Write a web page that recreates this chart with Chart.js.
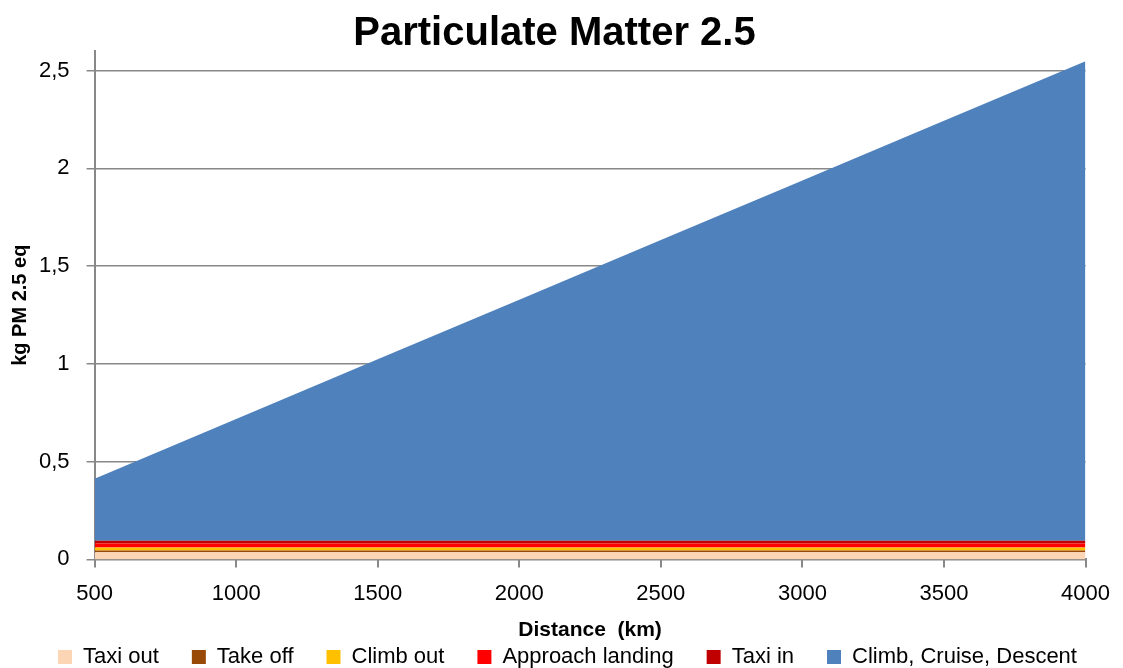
<!DOCTYPE html>
<html>
<head>
<meta charset="utf-8">
<script src="https://cdn.jsdelivr.net/npm/chart.js@4/dist/chart.umd.min.js"></script>
<style>
  html, body { margin: 0; padding: 0; background: #fff; }
  #wrap { width: 1123px; height: 668px; }
</style>
</head>
<body>
<div id="wrap"><canvas id="pmChart" width="1123" height="668"></canvas></div>
<script>
// distance categories (km)
const distances = ['500', '1000', '1500', '2000', '2500', '3000', '3500', '4000'];

// kg PM 2.5 eq per flight phase
const taxiOut   = [0.036, 0.036, 0.036, 0.036, 0.036, 0.036, 0.036, 0.036];
const takeOff   = [0.010, 0.010, 0.010, 0.010, 0.010, 0.010, 0.010, 0.010];
const climbOut  = [0.015, 0.015, 0.015, 0.015, 0.015, 0.015, 0.015, 0.015];
const approach  = [0.020, 0.020, 0.020, 0.020, 0.020, 0.020, 0.020, 0.020];
const taxiIn    = [0.015, 0.015, 0.015, 0.015, 0.015, 0.015, 0.015, 0.015];
const cruise    = [0.317, 0.622, 0.927, 1.232, 1.537, 1.842, 2.147, 2.452];

const seriesNames  = ['Taxi out', 'Take off', 'Climb out', 'Approach landing', 'Taxi in', 'Climb, Cruise, Descent'];
const seriesColors = ['#FCD5B5', '#984807', '#FFC000', '#FF0000', '#C00000', '#4F81BD'];
const seriesData   = [taxiOut, takeOff, climbOut, approach, taxiIn, cruise];

const yTicks = [0, 0.5, 1, 1.5, 2, 2.5];

const font = "'Liberation Sans', Arial, sans-serif";

let datasets = [];
for (let i = 0; i < seriesData.length; i++) {
    datasets.push({
        label: seriesNames[i],
        data: seriesData[i],
        backgroundColor: seriesColors[i],
        borderColor: seriesColors[i],
        borderWidth: 0,
        pointRadius: 0,
        tension: 0,
        fill: i == 0 ? 'origin' : '-1'
    });
}

// nudge the legend a little to the right, like the original
const legendShift = {
    id: 'legendShift',
    afterLayout(chart) {
        chart.legend.left += 13;
        chart.legend.right += 13;
    }
};

let ctx = document.getElementById('pmChart').getContext('2d');
window.pmChart = new Chart(ctx, {
    type: 'line',
    data: { labels: distances, datasets: datasets },
    plugins: [legendShift],
    options: {
        responsive: false,
        animation: false,
        layout: { padding: { left: 4, right: 18, top: 0, bottom: 0 } },
        plugins: {
            title: {
                display: true,
                text: 'Particulate Matter 2.5',
                color: '#000',
                font: { family: font, size: 40, weight: 'bold' },
                padding: { top: 10, bottom: -7 }
            },
            legend: {
                position: 'bottom',
                maxHeight: 55,
                labels: {
                    color: '#000',
                    font: { family: font, size: 22 },
                    boxWidth: 14,
                    boxHeight: 14,
                    padding: 33
                }
            },
            tooltip: { enabled: false }
        },
        scales: {
            x: {
                offset: false,
                grid: {
                    display: true,
                    drawOnChartArea: false,
                    drawTicks: true,
                    tickLength: 8,
                    color: '#888',
                    lineWidth: 2
                },
                border: { display: true, color: '#888', width: 2 },
                ticks: { color: '#000', font: { family: font, size: 22 }, maxRotation: 0, padding: 13 },
                title: {
                    display: true,
                    text: 'Distance  (km)',
                    color: '#000',
                    font: { family: font, size: 21, weight: 'bold' },
                    padding: { top: -2, bottom: -30 }
                }
            },
            y: {
                stacked: true,
                min: 0,
                max: 2.6,
                afterBuildTicks: function (axis) {
                    axis.ticks = yTicks.map(v => ({ value: v }));
                },
                grid: {
                    color: '#888',
                    lineWidth: 1.5,
                    drawTicks: true,
                    tickLength: 8
                },
                border: { display: true, color: '#888', width: 2 },
                ticks: {
                    color: '#000',
                    font: { family: font, size: 22 },
                    padding: 17,
                    callback: function (v) { return String(v).replace('.', ','); }
                },
                title: {
                    display: true,
                    text: 'kg PM 2.5 eq',
                    color: '#000',
                    font: { family: font, size: 20, weight: 'bold' },
                    padding: { top: 4, bottom: -10 }
                }
            }
        }
    }
});
</script>
</body>
</html>
